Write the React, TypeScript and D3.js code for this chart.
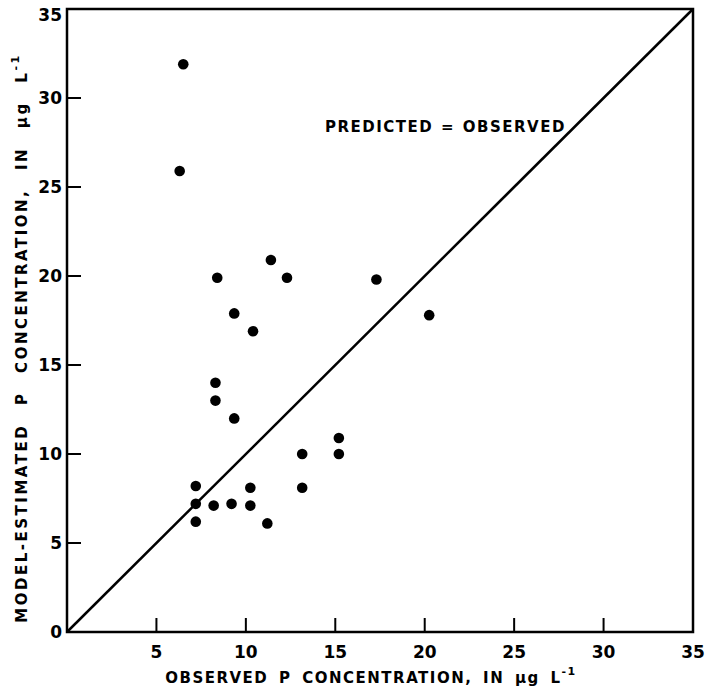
import React from 'react';
import * as d3 from 'd3';

// observed (x) vs model-estimated (y) P concentration, µg/L
const observed = [6.5, 6.3, 11.4, 8.4, 12.3, 9.35, 10.4, 8.3, 8.3, 9.35, 15.2, 15.2, 13.15, 13.15, 7.2, 10.25, 7.2, 8.2, 9.2, 10.25, 7.2, 11.2, 17.3, 20.25];
const estimated = [31.9, 25.9, 20.9, 19.9, 19.9, 17.9, 16.9, 14.0, 13.0, 12.0, 10.9, 10.0, 10.0, 8.1, 8.2, 8.1, 7.2, 7.1, 7.2, 7.1, 6.2, 6.1, 19.8, 17.8];
const xTicks = [5, 10, 15, 20, 25, 30, 35];
const yTicks = [0, 5, 10, 15, 20, 25, 30, 35];
const lineLabel = 'PREDICTED = OBSERVED';

const W = 705;
const H = 695;
const font = '"DejaVu Sans", Verdana, sans-serif';

export default function App() {
  const x = d3.scaleLinear().domain([0, 35]).range([67, 693]);
  const y = d3.scaleLinear().domain([0, 35]).range([632, 9]);
  const pts = observed.map((v, i) => ({ x: v, y: estimated[i] }));
  const diag = d3.line<number>().x(d => x(d)).y(d => y(d))([0, 35]);

  return (
    <svg width={W} height={H} style={{ position: 'absolute', left: 0, top: 0, background: '#fff' }}
      fontFamily={font} fontWeight="bold">
      {/* frame */}
      <rect x={x(0)} y={y(35)} width={x(35) - x(0)} height={y(0) - y(35)}
        fill="none" stroke="#000" strokeWidth={2.5} />
      {/* y ticks */}
      {yTicks.map(t => (
        <g key={'y' + t}>
          {t > 0 && t < 35 && <line x1={x(0)} x2={x(0) + 14} y1={y(t)} y2={y(t)} stroke="#000" strokeWidth={2} />}
          <text x={x(0) - 5} y={Math.max(y(t), 15)} dy="0.36em" textAnchor="end" fontSize={17}>{t}</text>
        </g>
      ))}
      {/* x ticks */}
      {xTicks.map(t => (
        <g key={'x' + t}>
          {t < 35 && <line x1={x(t)} x2={x(t)} y1={y(0)} y2={y(0) - 14} stroke="#000" strokeWidth={2} />}
          <text x={x(t)} y={y(0) + 26} textAnchor="middle" fontSize={17}>{t}</text>
        </g>
      ))}
      <path d={diag || ''} fill="none" stroke="#000" strokeWidth={2.5} />
      {pts.map((p, i) => (
        <circle key={i} cx={x(p.x)} cy={y(p.y)} r={5.3} fill="#000" />
      ))}
      <text x={325} y={132} fontSize={15} letterSpacing={1.5} wordSpacing={1}>{lineLabel}</text>
      <text x={371} y={683} textAnchor="middle" fontSize={15} letterSpacing={1.5} wordSpacing={4}>
        OBSERVED P CONCENTRATION, IN µg L<tspan dy={-8} fontSize={11}>-1</tspan>
      </text>
      <text transform="translate(27,338) rotate(-90)" textAnchor="middle" fontSize={15} letterSpacing={2.5} wordSpacing={11}>
        MODEL-ESTIMATED P CONCENTRATION, IN µg L<tspan dy={-8} fontSize={11}>-1</tspan>
      </text>
    </svg>
  );
}
